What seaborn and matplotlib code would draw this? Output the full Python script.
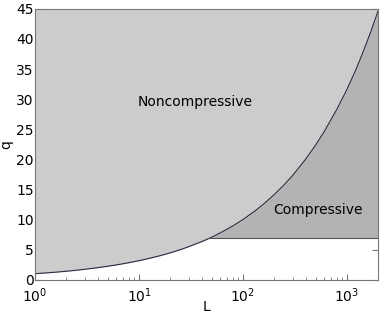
import matplotlib
matplotlib.use("Agg")
import matplotlib.pyplot as plt
from matplotlib.ticker import LogLocator, NullFormatter
import seaborn as sns
import numpy as np
import pandas as pd

# boundary curve
L_vals = [1, 1.3, 1.6, 2, 2.5, 3, 4, 5, 6, 8, 10, 13, 16, 20, 25, 30, 40, 45, 50, 60, 80,
          100, 130, 160, 200, 250, 300, 400, 500, 600, 800, 1000, 1200, 1400, 1700, 2000]
q_vals = [1.0, 1.14, 1.26, 1.41, 1.58, 1.73, 2.0, 2.24, 2.45, 2.83, 3.16, 3.61, 4.0, 4.47,
          5.0, 5.48, 6.32, 6.7, 7.07, 7.75, 8.94, 10.0, 11.4, 12.65, 14.14, 15.8, 17.3,
          20.0, 22.36, 24.5, 28.3, 31.6, 34.6, 37.4, 41.2, 44.7]
q_min = 7.0
q_top = 45

df = pd.DataFrame({"L": L_vals, "q": q_vals})

sns.set_style("ticks", {"xtick.direction": "in", "ytick.direction": "in",
                        "axes.edgecolor": "#777777"})
plt.rcParams["font.family"] = ["DejaVu Sans"]

fig, ax = plt.subplots(figsize=(3.82, 3.15), dpi=100)
fig.subplots_adjust(left=0.092, right=0.99, top=0.972, bottom=0.112)

L = np.array(L_vals)
q = np.array(q_vals)
ax.fill_between(L, q, q_top, color="#cccccc", lw=0)
ax.fill_between(L, q_min, q, where=q >= q_min, interpolate=True, color="#b3b3b3", lw=0)
sns.lineplot(data=df, x="L", y="q", ax=ax, color="#2b2b40", lw=0.8)
ax.hlines(q_min, 44.7, 2000, color="#555555", lw=0.8)

ax.set_xscale("log")
ax.set_xlim(1, 2000)
ax.set_ylim(0, q_top)
ax.set_yticks(range(0, 46, 5))
ax.xaxis.set_minor_locator(LogLocator(base=10, subs=np.arange(2, 10), numticks=20))
ax.xaxis.set_minor_formatter(NullFormatter())
ax.tick_params(which="both", top=True, right=True, labelsize=10, colors="#777777",
               labelcolor="black")
ax.tick_params(axis="x", which="major", length=4, pad=5)
ax.tick_params(axis="y", which="major", length=4, pad=1)
ax.tick_params(which="minor", length=2)
ax.set_xlabel("L", fontsize=10, labelpad=-4, color="black")
ax.set_ylabel("q", fontsize=10, labelpad=2, color="black")

ax.text(35, 29.6, "Noncompressive", ha="center", va="center", fontsize=10, color="black")
ax.text(525, 11.6, "Compressive", ha="center", va="center", fontsize=10, color="black")

plt.savefig("out.png", dpi=100)
